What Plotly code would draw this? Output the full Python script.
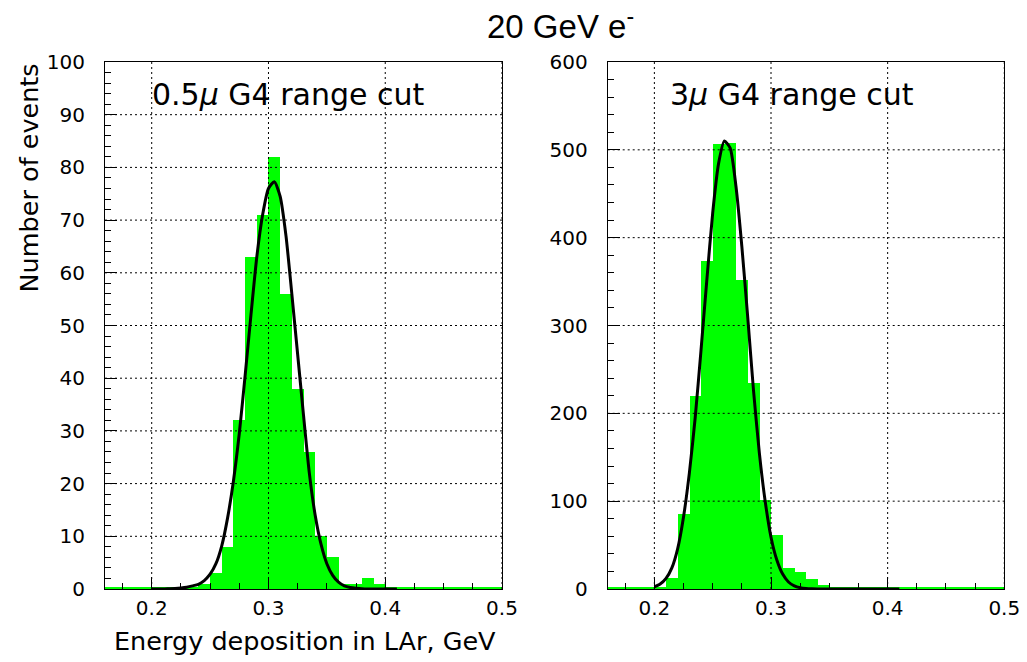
import plotly.graph_objects as go

# ---------------- data ----------------
bin_lo = [0.16, 0.17, 0.18, 0.19, 0.20, 0.21, 0.22, 0.23, 0.24, 0.25, 0.26, 0.27,
          0.28, 0.29, 0.30, 0.31, 0.32, 0.33, 0.34, 0.35, 0.36, 0.37, 0.38, 0.39,
          0.40, 0.41, 0.42, 0.43, 0.44, 0.45, 0.46, 0.47, 0.48, 0.49]
bin_width = 0.01

counts_05mu = [0, 0, 0, 0, 0, 0, 0, 0, 1, 3, 8, 32,
               63, 71, 82, 56, 38, 26, 10, 6, 1, 1, 2, 1,
               0, 0, 0, 0, 0, 0, 0, 0, 0, 0]
counts_3mu = [0, 0, 0, 0, 2, 13, 85, 220, 373, 507, 508, 352,
              234, 101, 62, 24, 19, 11, 4.5, 2.5, 1, 1, 0, 0,
              0, 0, 0, 0, 0, 0, 0, 0, 0, 0]

# fitted curves, points
fit_x = [0.200, 0.205, 0.210, 0.215, 0.220, 0.225, 0.230, 0.235, 0.240, 0.245,
         0.250, 0.255, 0.260, 0.265, 0.270, 0.275, 0.280, 0.285, 0.290, 0.295,
         0.300, 0.305, 0.310, 0.315, 0.320, 0.325, 0.330, 0.335, 0.340, 0.345,
         0.350, 0.355, 0.360, 0.365, 0.370, 0.375, 0.380, 0.385, 0.390, 0.400,
         0.410]
fit_y_05mu = [0.0, 0.0, 0.0, 0.05, 0.1, 0.2, 0.35, 0.6, 0.9, 1.6,
              2.8, 4.8, 8.2, 13.5, 20.5, 29.5, 40.5, 52, 63, 71,
              76, 77.3, 74.5, 67, 56, 44.5, 33, 22, 14, 8.5,
              4.8, 2.6, 1.3, 0.6, 0.3, 0.15, 0.05, 0.0, 0.0, 0.0,
              0.0]
fit_y_3mu = [2.5, 5.6, 12, 24, 46, 82, 132, 195, 272, 352,
             428, 484, 510, 502, 458, 390, 310, 226, 155, 100,
             59, 33, 17, 8, 3.6, 1.5, 0.6, 0.2, 0.05, 0.0,
             0.0, 0.0, 0.0, 0.0, 0.0, 0.0, 0.0, 0.0, 0.0, 0.0,
             0.0]

x_ticks = [0.2, 0.3, 0.4, 0.5]
x_tick_text = ["0.2", "0.3", "0.4", "0.5"]
x_range = [0.16, 0.5]
y_ticks_05mu = [0, 10, 20, 30, 40, 50, 60, 70, 80, 90, 100]
y_ticks_3mu = [0, 100, 200, 300, 400, 500, 600]

title_text = "20 GeV e<sup>-</sup>"
label_05mu = "0.5<i>μ</i> G4 range cut"
label_3mu = "3<i>μ</i> G4 range cut"
x_title = "Energy deposition in LAr, GeV"
y_title = "Number of events"

# ---------------- style ----------------
W, H = 1027, 662
GREEN = "#00ff00"
FONT = "DejaVu Sans"
dom_y = [1 - 589 / H, 1 - 62 / H]
dom_x1 = [105 / W, 502 / W]
dom_x2 = [607.7 / W, 1004.3 / W]
GRID_DASH = "2px,3px"

fig = go.Figure()


def add_panel(xa, ya, counts, fx, fy, yticks):
    centers = [lo + bin_width / 2 for lo in bin_lo]
    fig.add_trace(go.Bar(x=centers, y=counts, width=bin_width,
                         marker=dict(color=GREEN, line=dict(width=0)),
                         xaxis=xa, yaxis=ya, showlegend=False, hoverinfo="skip"))
    # green baseline of the histogram
    fig.add_trace(go.Scatter(x=x_range, y=[0, 0], mode="lines",
                             line=dict(color=GREEN, width=4),
                             xaxis=xa, yaxis=ya, showlegend=False, hoverinfo="skip"))
    ymax = yticks[-1]
    gx, gy = [], []
    for v in x_ticks:
        gx += [v, v, None]
        gy += [0, ymax, None]
    for v in yticks[1:-1]:
        gx += [x_range[0], x_range[1], None]
        gy += [v, v, None]
    fig.add_trace(go.Scatter(x=gx, y=gy, mode="lines",
                             line=dict(color="black", width=1, dash=GRID_DASH),
                             xaxis=xa, yaxis=ya, showlegend=False, hoverinfo="skip"))
    fig.add_trace(go.Scatter(x=fx, y=fy, mode="lines",
                             line=dict(color="black", width=3, shape="spline", smoothing=0.6),
                             xaxis=xa, yaxis=ya, showlegend=False, hoverinfo="skip"))


add_panel("x", "y", counts_05mu, fit_x, fit_y_05mu, y_ticks_05mu)
add_panel("x2", "y2", counts_3mu, fit_x, fit_y_3mu, y_ticks_3mu)

xaxis_common = dict(range=x_range, tickvals=x_ticks, ticktext=x_tick_text,
                    ticks="inside", ticklen=12, tickwidth=1, tickcolor="black",
                    showline=True, linecolor="black", linewidth=1, mirror=True,
                    showgrid=False, zeroline=False, automargin=False,
                    minor=dict(tick0=0.2, dtick=0.025, ticks="inside", ticklen=6,
                               tickcolor="black", showgrid=False),
                    tickfont=dict(family=FONT, size=20, color="black"),
                    ticklabelstandoff=1, fixedrange=True)


def yaxis_common(yticks, anchor, minor_dtick):
    return dict(range=[yticks[0], yticks[-1]], tickvals=yticks,
                ticks="inside", ticklen=12, tickwidth=1, tickcolor="black",
                showline=True, linecolor="black", linewidth=1, mirror=True,
                showgrid=False, zeroline=False, anchor=anchor, domain=dom_y,
                automargin=False,
                minor=dict(tick0=0, dtick=minor_dtick, ticks="inside", ticklen=6,
                           tickcolor="black", showgrid=False),
                tickfont=dict(family=FONT, size=20, color="black"),
                ticklabelstandoff=15, fixedrange=True)


fig.update_layout(
    width=W, height=H,
    margin=dict(l=0, r=0, t=0, b=0, autoexpand=False),
    paper_bgcolor="white", plot_bgcolor="white",
    bargap=0, barmode="overlay",
    xaxis=dict(xaxis_common, domain=dom_x1, anchor="y"),
    xaxis2=dict(xaxis_common, domain=dom_x2, anchor="y2"),
    yaxis=yaxis_common(y_ticks_05mu, "x", 2),
    yaxis2=yaxis_common(y_ticks_3mu, "x2", 20),
    annotations=[
        dict(text=title_text, x=560 / W, y=1 - 24 / H, xref="paper", yref="paper",
             xanchor="center", yanchor="middle", showarrow=False,
             font=dict(family="Liberation Sans", size=33, color="black")),
        dict(text=label_05mu, x=150 / W, y=1 - 94 / H, xref="paper", yref="paper",
             xanchor="left", yanchor="middle", showarrow=False,
             font=dict(family=FONT, size=30, color="black")),
        dict(text=label_3mu, x=668 / W, y=1 - 94 / H, xref="paper", yref="paper",
             xanchor="left", yanchor="middle", showarrow=False,
             font=dict(family=FONT, size=30, color="black")),
        dict(text=x_title, x=498 / W, y=1 - 641 / H, xref="paper", yref="paper",
             xanchor="right", yanchor="middle", showarrow=False,
             font=dict(family=FONT, size=25.5, color="black")),
        dict(text=y_title, x=28 / W, y=1 - 62 / H, xref="paper", yref="paper",
             xanchor="center", yanchor="top", textangle=-90, showarrow=False,
             font=dict(family=FONT, size=25.5, color="black")),
    ],
)

fig.write_html("out.html")
